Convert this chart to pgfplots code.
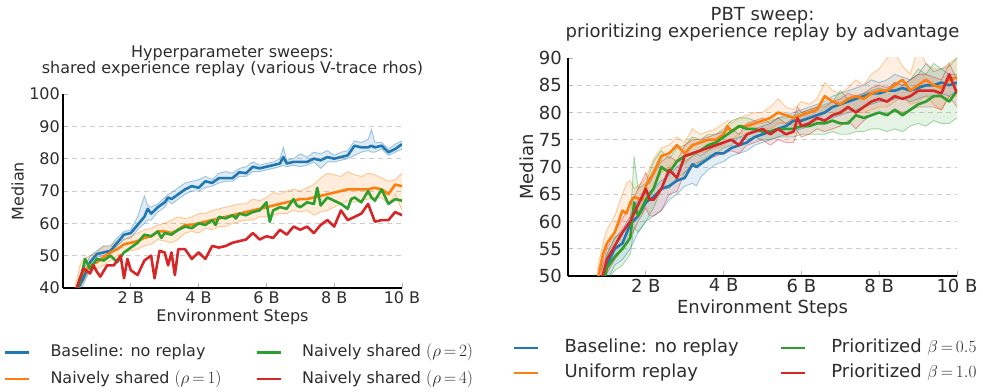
\documentclass[border=0pt]{standalone}
\usepackage{fontspec}
\setmainfont{DejaVu Sans}
\usepackage{pgfplots}
\usepackage{pgfplotstable}
\pgfplotsset{compat=1.18}
\usepgfplotslibrary{fillbetween}
\definecolor{tabblue}{RGB}{31,119,180}
\definecolor{taborange}{RGB}{255,127,14}
\definecolor{tabgreen}{RGB}{44,160,44}
\definecolor{tabred}{RGB}{214,39,40}
\definecolor{textgray}{RGB}{45,45,45}

% ---------- left panel ----------
\pgfplotstableread{
x m lo hi
0.4 39 37 41
0.6 43 41 45.5
0.8 48 46 50
1.0 50.5 49.5 51.5
1.2 51 50 53
1.4 51.5 50.5 53
1.6 54 53 55.5
1.8 56.5 55 57.5
2.0 57 55.5 58
2.2 59.5 58 62
2.4 62 60 68.5
2.5 64.5 61 65.5
2.6 63 61 65
2.8 65 63.5 66
3.0 66.5 65 68
3.1 68 67 69
3.2 67.5 66 69.5
3.4 69 67.5 71
3.6 70.5 69 72.5
3.8 71.5 70 73
4.0 71 70 73.5
4.2 73 71 74.5
4.4 72.5 71.5 73.5
4.6 74 72.5 75.5
4.8 74 73 76
5.0 74 73 75.5
5.2 75.8 74.5 77
5.4 75.5 74.5 77.5
5.6 77.5 76 79
5.8 77 76 78
6.0 77.5 76.5 78.5
6.2 78 77 79
6.4 78.5 77.5 80
6.5 80.5 78 83.5
6.6 78.5 77.5 79.5
6.8 79 78 80
7.0 79 77.5 81.5
7.2 79 78 80.5
7.4 80 79 82
7.6 79.5 77 81.5
7.8 80.5 79 82.5
8.0 80 79 81
8.2 80.5 79.5 82
8.4 81 80 82.5
8.6 84 81 85.5
8.8 83.5 82 85
9.0 83.5 82.5 86
9.1 84 82 89
9.2 83.5 82 85
9.4 84 83 85
9.6 82 81 83
9.8 83 82 84.5
10.0 84.5 83 85.5
}\LBlue
\pgfplotstableread{
x m lo hi
0.35 38 36 40
0.5 43 40 47
0.6 45 42 49
0.8 47 45 50
1.0 48 46 51
1.2 49.5 47 53
1.4 51 48.5 53
1.6 52 50 54.5
1.8 53.5 51 55
2.0 54 51.5 56
2.2 54.5 52 57
2.4 55.5 53 58
2.6 56 53.5 58.5
2.8 57.5 55 59.5
3.0 57.5 54.5 60
3.2 57 54 61
3.4 58 55 62
3.6 59.5 57 61.5
3.8 59.5 57.5 62
4.0 60 57 63
4.2 60.5 58.5 63
4.4 61 58 64
4.6 61.5 59 64.5
4.8 62 59 65
5.0 62.5 60 65.5
5.2 63 60.5 66
5.4 63.5 61 66
5.6 64 61 67.5
5.8 64.5 62 67
6.0 65 62 68
6.2 65.5 62.5 69.5
6.4 66 63 69
6.6 66.5 63 70
6.8 67 64 70.5
7.0 67.5 63.5 70
7.2 67.5 64 71
7.4 68 62.5 72
7.6 68.5 63.5 74
7.8 69 64 75.5
8.0 69.5 65 75
8.2 70 66 74.5
8.4 70.5 67 76
8.6 70.5 66.5 75
8.8 70.5 67 74.5
9.0 70.5 67.5 75.5
9.2 71 68 75
9.4 70.5 68 74
9.6 69 66 73
9.8 72 69 73.5
10.0 71.5 64 75.5
}\LOrange
\pgfplotstableread{
x m
0.4 39
0.55 44
0.65 49
0.8 46
1.0 49
1.2 48.5
1.4 50
1.5 49
1.6 48
1.8 51
2.0 52.5
2.2 54
2.4 56.5
2.6 56
2.8 57.5
2.9 55.5
3.0 57
3.2 56.5
3.4 58
3.6 59
3.8 58.5
4.0 60
4.2 59.5
4.4 61
4.5 59.5
4.6 62
4.8 61.5
5.0 62.5
5.1 61.5
5.2 63
5.4 62.5
5.6 63.5
5.8 64
6.0 66.5
6.1 60.5
6.2 64
6.4 65
6.6 64.5
6.8 67.5
6.9 65.5
7.0 65
7.2 66.5
7.4 66
7.5 71
7.6 65.5
7.8 68
8.0 67
8.2 66
8.4 64.5
8.5 67.5
8.6 68
8.8 66.5
9.0 70
9.1 68
9.2 67
9.4 70.5
9.6 66
9.8 67.5
10.0 67
}\LGreen
\pgfplotstableread{
x m
0.35 38
0.5 43
0.6 46
0.8 44.5
0.9 47
1.0 45
1.1 43.5
1.3 47
1.5 47
1.7 50
1.8 43
1.9 49
2.0 45.5
2.2 44
2.4 48.5
2.6 50
2.7 43
2.85 51.5
3.0 51
3.1 47
3.2 51
3.3 44
3.4 52
3.6 52
3.8 49
4.0 51
4.2 49
4.4 53
4.6 52.5
4.8 53
5.0 54
5.2 54.5
5.4 55
5.6 57
5.8 55
6.0 56
6.2 55.5
6.4 58
6.6 56.5
6.8 59
7.0 58
7.2 59
7.4 57
7.6 59.5
7.8 61
8.0 59
8.2 64
8.4 61
8.6 62
8.8 63
9.0 66
9.2 60.5
9.4 61
9.6 61
9.8 63.5
10.0 62.5
}\LRed

% ---------- right panel ----------
\pgfplotstableread{
x m lo hi
0.8 48 46 50
1.0 52 49 54
1.2 55 52 57
1.4 56 53 58.5
1.6 59.5 55 61
1.8 61 58 64
2.0 63.5 60 65
2.2 64.5 61 66
2.4 66 62 67.5
2.6 66.5 64 68.5
2.8 67.5 65 70
3.0 68 66.5 71
3.2 70.5 67 72
3.3 70 66.5 72.5
3.4 70.5 68 72
3.6 71.5 69.5 73
3.8 72.5 70.5 74
4.0 72.5 71 74.5
4.2 73.5 72 75
4.4 74 72.5 75.5
4.6 74.5 73 76
4.8 75.5 74 77
5.0 76 74.5 77.5
5.2 76.5 75 78
5.4 77 75.5 79
5.6 77.5 76 79.5
5.8 78.5 76.5 80
6.0 78.5 77 80.5
6.2 79 77.5 81
6.4 79.5 78 81.5
6.6 80 78.5 82
6.8 81 79 83
7.0 81.5 79.5 83.5
7.2 82 80 84
7.4 82.5 80.5 84.5
7.6 83 81 85
7.8 83.5 81.5 86
8.0 83.5 82 85.5
8.2 84 82 86
8.4 84 82.5 87
8.6 84.5 82.5 86.5
8.8 84 82 86
9.0 84.5 82.5 87
9.2 85 83 89
9.4 85 83 87.5
9.6 85.5 83.5 88
9.8 85 83 87
10.0 85.5 84 87
}\RBlue
\pgfplotstableread{
x m lo hi
0.75 49 47 51
0.9 54 52 56
1.0 56 53.5 58.5
1.2 58 55.5 61
1.4 62 59 65
1.5 61.5 59 67
1.6 63.5 61 67.5
1.7 64.5 62 66
1.9 64 61.5 67
2.0 66.5 63 68
2.2 69 66 71.5
2.4 72 69 73.5
2.6 72.5 70 74
2.8 74 71.5 75.5
3.0 72.5 70.5 74.5
3.2 74 72 77
3.4 74.5 72.5 76
3.6 75 73 76.5
3.8 75 73.5 77
4.0 76 74 78
4.1 77.5 75 78.5
4.2 76.5 75 78
4.4 77.5 76 79
4.6 77.5 76 79.5
4.8 78 76.5 80
5.0 78.5 77 80
5.2 79 77 81
5.4 80 78 82.5
5.6 79.5 78 81
5.8 79 77.5 80.5
6.0 79.5 77.5 82
6.2 80 78 81.5
6.4 80.5 78.5 82.5
6.6 83 80 85.5
6.8 82 80 84
7.0 81.5 79.5 83.5
7.2 82.5 80.5 84.5
7.4 83 80 86
7.6 82.5 80 85
7.8 83.5 80.5 87
8.0 84 81 88
8.2 84 81 90
8.4 85 82 91
8.6 86 83 88.5
8.8 84 81.5 87
9.0 85 82 92
9.2 86 83 89
9.4 85 81.5 88
9.6 84.5 80.5 88
9.8 86 83 89
10.0 86.5 83 90
}\ROrange
\pgfplotstableread{
x m lo hi
0.9 48 46 50
1.0 51.5 49 54
1.2 53.5 51 57
1.4 55 52 58
1.6 57 54 60
1.7 63.5 59 72
1.8 61 58 66
2.0 64 60 67
2.2 66 62.5 71
2.4 70 66 73
2.6 69 66 71.5
2.8 71 68 73.5
3.0 72 69 74
3.2 72.5 70 75.5
3.4 73 71 75
3.6 74 72 76
3.8 74.5 72.5 76
4.0 75.5 73.5 77
4.2 76.5 74 78.5
4.4 77.5 75.5 79
4.6 77 75 79
4.8 77 75.5 78.5
5.0 76.5 75 78
5.2 76.5 75 78.5
5.4 77 75.5 79
5.6 77 75.5 79
5.8 77 75.5 79.5
6.0 77.5 76 80
6.2 77.5 76 80.5
6.4 78 76 81
6.6 78 76 81.5
6.8 78.5 76.5 82
7.0 78 76 84
7.2 78 76 82.5
7.4 79.5 76.5 83
7.6 79 76.5 83.5
7.8 79.5 77 84
8.0 80 77 84.5
8.2 79.5 76.5 84
8.4 80.5 77 85.5
8.6 79.5 76.5 85
8.8 80.5 77.5 86
9.0 81.5 78 88
9.2 82 77.5 87
9.4 83 78.5 89
9.6 83 78 88
9.8 82 78 88.5
10.0 84 79 90
}\RGreen
\pgfplotstableread{
x m lo hi
0.85 49 47 51
1.0 53 50.5 55
1.2 55.5 53 58
1.4 58 55 60.5
1.6 60 57 63
1.8 63 60 66
2.0 66 62.5 69
2.1 64 61 67
2.2 64 61 68.5
2.4 66 62 71
2.6 69.5 65 72
2.8 68 65.5 71
3.0 72 69 74
3.2 72.5 70.5 75
3.4 73 71 75
3.6 73.5 71.5 75.5
3.8 74 72 76
4.0 74.5 72.5 76.5
4.2 75 73 77
4.4 74 72.5 76
4.6 76 74 78
4.8 76.5 74.5 78.5
5.0 77 75 79
5.2 76 74 78
5.4 77 75 79
5.6 76 74.5 78
5.8 76.5 74.5 79
5.9 79 76.5 81
6.0 77.5 75.5 80
6.2 78 76 80.5
6.4 79 77 81
6.6 78.5 76.5 81
6.8 79.5 77 82
7.0 80 77.5 82.5
7.2 81 78.5 83.5
7.4 80 77 83
7.6 81 78.5 83.5
7.8 82 79.5 84.5
8.0 82.5 80 85
8.2 82 79.5 84.5
8.4 83 80.5 85.5
8.6 82.5 80 85
8.8 83 80.5 86
9.0 84 81 87
9.2 84 81 87
9.4 84 81 86.5
9.6 83.5 80.5 86
9.8 87 83 89
10.0 83.5 81 86
}\RRed

\pgfplotsset{
  base/.style={
    scale only axis, clip=true,
    axis x line*=bottom, axis y line*=left,
    axis line style={line width=1.6bp, black},
    xmin=0, xmax=10,
    xtick={2,4,6,8,10}, xticklabels={2 B,4 B,6 B,8 B,10 B},
    tick align=inside, major tick length=5bp,
    tick style={gray!55, line width=0.8bp},
    /pgf/number format/assume math mode=true,
    ticklabel style={text=textgray},
    label style={text=textgray},
    title style={text=textgray, align=center, inner sep=0pt, anchor=south, at={(0.5,1)}},
    extra y tick style={ymajorgrids=true, major tick length=0pt,
       major grid style={dash pattern=on 5bp off 4bp, gray!40, line width=0.8bp}},
    legend columns=2, legend cell align=left,
    legend image code/.code={\draw[##1] (0bp,0bp) -- (24bp,0bp);},
  },
  band/.style={draw=#1, draw opacity=0.4, line width=0.9bp, forget plot},
  mean/.style={draw=#1, line width=2.6bp, forget plot, line join=round},
}

\begin{document}
\begin{tikzpicture}

% ================= LEFT =================
\begin{axis}[base,
  at={(63bp,104bp)}, anchor=south west, width=339bp, height=194bp,
  ymin=40, ymax=100, ytick={40,50,...,100},
  extra y ticks={50,60,70,80,90}, extra y tick labels={},
  ticklabel style={font=\fontsize{16bp}{19bp}\selectfont},
  xticklabel style={inner sep=0pt, anchor=north, yshift=-3.7bp},
  yticklabel style={inner sep=0pt, anchor=east, xshift=-3bp},
  label style={font=\fontsize{16bp}{19bp}\selectfont},
  xlabel={Environment Steps},
  xlabel style={at={(axis description cs:0.5,-0.174)}, anchor=base},
  ylabel={Median},
  ylabel style={at={(axis description cs:-0.134,0.5)}, anchor=center},
  title={Hyperparameter sweeps:\\shared experience replay (various V-trace rhos)},
  title style={font=\fontsize{16bp}{16bp}\selectfont, yshift=11bp},
  legend style={at={(axis description cs:-0.174,-0.292)}, anchor=north west,
    draw=none, fill=none, inner sep=0pt, outer sep=0pt,
    font=\fontsize{16bp}{19bp}\selectfont, text=textgray,
    row sep=10.5bp,
    nodes={inner sep=0pt, text height=12bp, text depth=4bp},
    /tikz/every odd column/.append style={column sep=20bp},
    /tikz/every even column/.append style={column sep=34bp}},
]
\addplot[band=tabblue, name path=lbh] table[x=x,y=hi]{\LBlue};
\addplot[band=tabblue, name path=lbl] table[x=x,y=lo]{\LBlue};
\addplot[tabblue, fill opacity=0.15, draw=none, forget plot] fill between[of=lbh and lbl];
\addplot[band=taborange, name path=loh] table[x=x,y=hi]{\LOrange};
\addplot[band=taborange, name path=lol] table[x=x,y=lo]{\LOrange};
\addplot[taborange, fill opacity=0.15, draw=none, forget plot] fill between[of=loh and lol];
\addplot[mean=tabblue] table[x=x,y=m]{\LBlue};
\addplot[mean=taborange] table[x=x,y=m]{\LOrange};
\addplot[mean=tabgreen] table[x=x,y=m]{\LGreen};
\addplot[mean=tabred] table[x=x,y=m]{\LRed};
\addlegendimage{tabblue, line width=2.5bp}
\addlegendentry{Baseline: no replay}
\addlegendimage{tabgreen, line width=2.5bp}
\addlegendentry{Naively shared $(\rho\,{=}\,2)$}
\addlegendimage{taborange, line width=2.5bp}
\addlegendentry{Naively shared $(\rho\,{=}\,1)$}
\addlegendimage{tabred, line width=2.5bp}
\addlegendentry{Naively shared $(\rho\,{=}\,4)$}
\end{axis}

% ================= RIGHT =================
\begin{axis}[base,
  at={(568bp,116bp)}, anchor=south west, width=389bp, height=218bp,
  ymin=50, ymax=90, ytick={50,55,...,90},
  extra y ticks={55,60,65,70,75,80,85}, extra y tick labels={},
  ticklabel style={font=\fontsize{18bp}{21bp}\selectfont},
  xticklabel style={inner sep=0pt, anchor=north, yshift=-2.5bp},
  yticklabel style={inner sep=0pt, anchor=east, xshift=-6bp},
  label style={font=\fontsize{18bp}{21bp}\selectfont},
  xlabel={Environment Steps},
  xlabel style={at={(axis description cs:0.5,-0.170)}, anchor=base},
  ylabel={Median},
  ylabel style={at={(axis description cs:-0.1067,0.5)}, anchor=center},
  title={PBT sweep:\\[-1bp]prioritizing experience replay by advantage},
  title style={font=\fontsize{18bp}{18.3bp}\selectfont, yshift=10.5bp},
  legend style={at={(axis description cs:-0.1414,-0.289)}, anchor=north west,
    draw=none, fill=none, inner sep=0pt, outer sep=0pt,
    font=\fontsize{18bp}{21bp}\selectfont, text=textgray,
    row sep=7bp,
    nodes={inner sep=0pt, text height=13.5bp, text depth=4.5bp},
    /tikz/every odd column/.append style={column sep=25bp},
    /tikz/every even column/.append style={column sep=41bp}},
]
\addplot[band=tabblue, name path=rbh] table[x=x,y=hi]{\RBlue};
\addplot[band=tabblue, name path=rbl] table[x=x,y=lo]{\RBlue};
\addplot[tabblue, fill opacity=0.12, draw=none, forget plot] fill between[of=rbh and rbl];
\addplot[band=taborange, name path=roh] table[x=x,y=hi]{\ROrange};
\addplot[band=taborange, name path=rol] table[x=x,y=lo]{\ROrange};
\addplot[taborange, fill opacity=0.12, draw=none, forget plot] fill between[of=roh and rol];
\addplot[band=tabgreen, name path=rgh] table[x=x,y=hi]{\RGreen};
\addplot[band=tabgreen, name path=rgl] table[x=x,y=lo]{\RGreen};
\addplot[tabgreen, fill opacity=0.12, draw=none, forget plot] fill between[of=rgh and rgl];
\addplot[band=tabred, name path=rrh] table[x=x,y=hi]{\RRed};
\addplot[band=tabred, name path=rrl] table[x=x,y=lo]{\RRed};
\addplot[tabred, fill opacity=0.12, draw=none, forget plot] fill between[of=rrh and rrl];
\addplot[mean=tabblue] table[x=x,y=m]{\RBlue};
\addplot[mean=taborange] table[x=x,y=m]{\ROrange};
\addplot[mean=tabgreen] table[x=x,y=m]{\RGreen};
\addplot[mean=tabred] table[x=x,y=m]{\RRed};
\addlegendimage{tabblue, line width=2.5bp}
\addlegendentry{Baseline: no replay}
\addlegendimage{tabgreen, line width=2.5bp}
\addlegendentry{Prioritized $\beta\,{=}\,0.5$}
\addlegendimage{taborange, line width=2.5bp}
\addlegendentry{Uniform replay}
\addlegendimage{tabred, line width=2.5bp}
\addlegendentry{Prioritized $\beta\,{=}\,1.0$}
\end{axis}
\pgfresetboundingbox
\useasboundingbox (0,0) rectangle (983bp,392bp);
\end{tikzpicture}
\end{document}
